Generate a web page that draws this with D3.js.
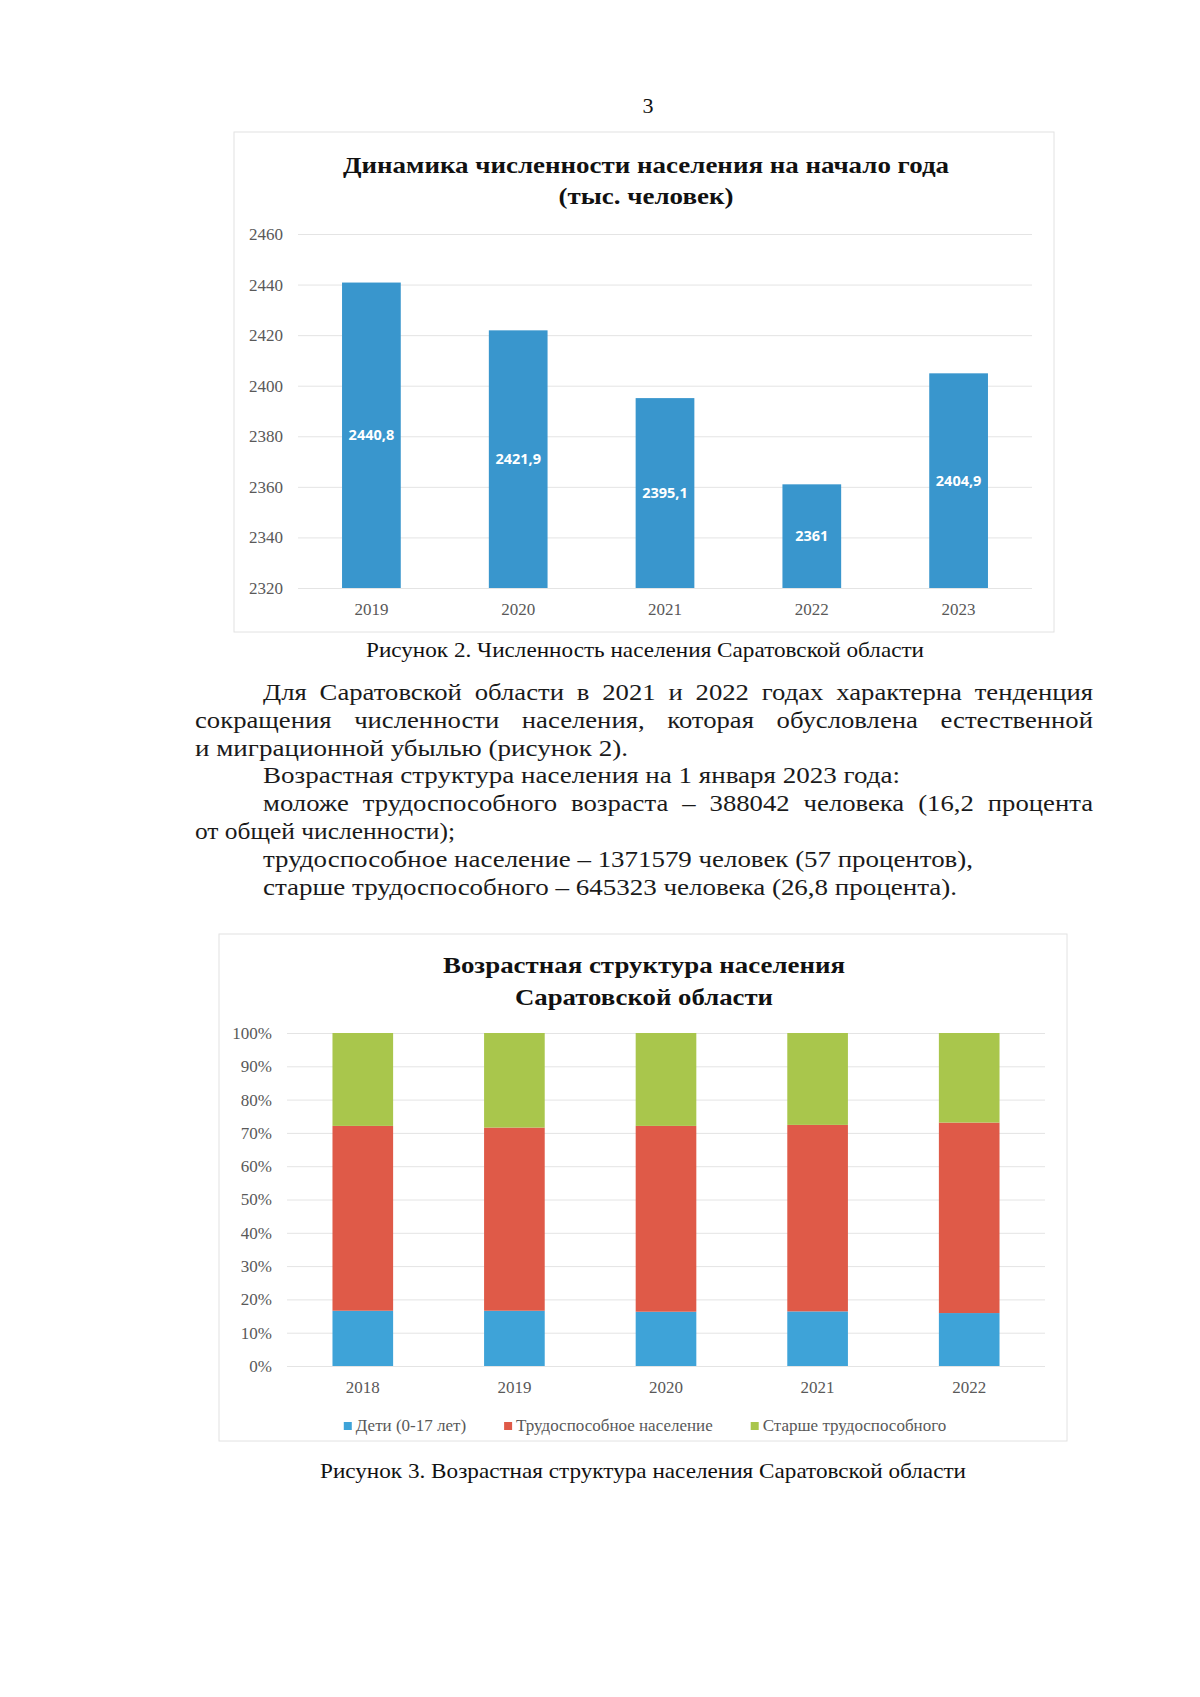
<!DOCTYPE html>
<html>
<head>
<meta charset="utf-8">
<title>Численность и возрастная структура населения</title>
<script src="https://cdn.jsdelivr.net/npm/d3@7"></script>
<style>
  body { margin: 0; background: #fff; }
  svg { font-family: "Liberation Serif", "Times New Roman", serif; }
  .tick text { font-family: "Liberation Serif", "Times New Roman", serif; }
</style>
</head>
<body>
<script>
// --- data ---
var popYears = ["2019", "2020", "2021", "2022", "2023"];
var popValues = [2440.8, 2421.9, 2395.1, 2361, 2404.9];
var popTicks = [2320, 2340, 2360, 2380, 2400, 2420, 2440, 2460];

var ageYears = ["2018", "2019", "2020", "2021", "2022"];
var ageKids = [16.6, 16.6, 16.3, 16.4, 15.9];
var ageWorking = [55.5, 55.0, 55.8, 56.0, 57.2];
var ageOlder = [27.9, 28.4, 27.9, 27.6, 26.9];
var ageSeries = ["Дети (0-17 лет)", "Трудоспособное население", "Старше трудоспособного"];
var ageColors = ["#3ea3d8", "#df5a48", "#a9c64c"];

var title1 = ["Динамика численности населения на начало года", "(тыс. человек)"];
var title2 = ["Возрастная структура населения", "Саратовской области"];
var caption1 = "Рисунок 2. Численность населения Саратовской области";
var caption2 = "Рисунок 3. Возрастная структура населения Саратовской области";

var paraLines = [
  {t: "Для Саратовской области в 2021 и 2022 годах характерна тенденция", indent: true, justify: true, end: 1093},
  {t: "сокращения численности населения, которая обусловлена естественной", indent: false, justify: true, end: 1093},
  {t: "и миграционной убылью (рисунок 2).", indent: false, justify: false, end: 628},
  {t: "Возрастная структура населения на 1 января 2023 года:", indent: true, justify: false, end: 900},
  {t: "моложе трудоспособного возраста – 388042 человека (16,2 процента", indent: true, justify: true, end: 1093},
  {t: "от общей численности);", indent: false, justify: false, end: 455},
  {t: "трудоспособное население – 1371579 человек (57 процентов),", indent: true, justify: false, end: 973},
  {t: "старше трудоспособного – 645323 человека (26,8 процента).", indent: true, justify: false, end: 957}
];

var W = 1200, H = 1697;
var svg = d3.select("body").append("svg").attr("width", W).attr("height", H);
svg.append("rect").attr("width", W).attr("height", H).attr("fill", "#fff");

// helper: centered text squeezed to a given width
function fitText(g, str, cx, y, w, size, weight, color) {
  return g.append("text")
    .attr("x", cx).attr("y", y)
    .attr("text-anchor", "middle")
    .attr("font-size", size)
    .attr("font-weight", weight || "normal")
    .attr("fill", color || "#111")
    .attr("textLength", w)
    .attr("lengthAdjust", "spacingAndGlyphs")
    .text(str);
}

// page number
svg.append("text").attr("x", 648).attr("y", 113).attr("text-anchor", "middle")
  .attr("font-size", 22).attr("fill", "#111").text("3");

// ================= chart 1 =================
var c1 = svg.append("g");
c1.append("rect").attr("x", 234).attr("y", 132).attr("width", 820).attr("height", 500)
  .attr("fill", "none").attr("stroke", "#e2e2e2");

fitText(c1, title1[0], 646, 173, 606, 24, "bold");
fitText(c1, title1[1], 646, 204, 175, 24, "bold");

var x1 = d3.scaleBand().domain(popYears).range([298, 1032]).paddingInner(0.6).paddingOuter(0.3);
var y1 = d3.scaleLinear().domain([2320, 2460]).range([588, 234]);

var y1Axis = c1.append("g").attr("transform", "translate(298,0)")
  .call(d3.axisLeft(y1).tickValues(popTicks).tickSize(-734).tickPadding(15).tickFormat(d3.format("d")));
y1Axis.select(".domain").remove();
y1Axis.attr("font-family", null);
y1Axis.selectAll(".tick line").attr("stroke", "#e4e4e4");
y1Axis.selectAll(".tick text").attr("font-size", 17).attr("fill", "#595959");

c1.selectAll("rect.bar").data(popValues).enter().append("rect")
  .attr("class", "bar")
  .attr("x", function(d, i) { return x1(popYears[i]); })
  .attr("y", function(d) { return y1(d); })
  .attr("width", x1.bandwidth())
  .attr("height", function(d) { return y1(2320) - y1(d); })
  .attr("fill", "#3996cd");

c1.selectAll("text.val").data(popValues).enter().append("text")
  .attr("class", "val")
  .attr("x", function(d, i) { return x1(popYears[i]) + x1.bandwidth() / 2; })
  .attr("y", function(d) { return (y1(d) + y1(2320)) / 2 + 5; })
  .attr("text-anchor", "middle")
  .style("font-family", "'Open Sans', sans-serif")
  .attr("font-weight", "bold").attr("font-size", 14.5).attr("fill", "#fff")
  .text(function(d) { return String(d).replace(".", ","); });

var x1Axis = c1.append("g").attr("transform", "translate(0,588)")
  .call(d3.axisBottom(x1).tickSize(0).tickPadding(15));
x1Axis.select(".domain").remove();
x1Axis.attr("font-family", null);
x1Axis.selectAll(".tick text").attr("font-size", 17).attr("fill", "#595959");

fitText(svg, caption1, 645, 657, 558, 22, "normal");

// ================= paragraph =================
var para = svg.append("g").attr("font-size", 24).attr("fill", "#1a1a1a");
// probe glyph stretch from the plain lines
var probe = para.append("text").attr("font-size", 24);
var ratios = [];
paraLines.forEach(function(l) {
  if (!l.justify) {
    probe.text(l.t);
    var nat = probe.node().getComputedTextLength();
    ratios.push((l.end - (l.indent ? 263 : 195)) / nat);
  }
});
probe.remove();
var k = d3.mean(ratios);

paraLines.forEach(function(l, i) {
  var x0 = l.indent ? 263 : 195;
  var y = 700 + i * 27.8;
  if (!l.justify) {
    para.append("text").attr("x", x0).attr("y", y)
      .attr("textLength", l.end - x0).attr("lengthAdjust", "spacingAndGlyphs").text(l.t);
    return;
  }
  var words = l.t.split(" ");
  var ws = words.map(function(w) {
    var t = para.append("text").attr("y", y).text(w);
    var len = t.node().getComputedTextLength() * k;
    t.attr("textLength", len).attr("lengthAdjust", "spacingAndGlyphs");
    return {node: t, len: len};
  });
  var total = d3.sum(ws, function(d) { return d.len; });
  var gap = (l.end - x0 - total) / (ws.length - 1);
  var cx = x0;
  ws.forEach(function(d) { d.node.attr("x", cx); cx += d.len + gap; });
});

// ================= chart 2 =================
var c2 = svg.append("g");
c2.append("rect").attr("x", 219).attr("y", 934).attr("width", 848).attr("height", 507)
  .attr("fill", "none").attr("stroke", "#e2e2e2");

fitText(c2, title2[0], 644, 973, 402, 24, "bold");
fitText(c2, title2[1], 644, 1005, 258, 24, "bold");

var x2 = d3.scaleBand().domain(ageYears).range([287, 1045]).paddingInner(0.6).paddingOuter(0.3);
var y2 = d3.scaleLinear().domain([0, 1]).range([1366, 1033]);

var y2Axis = c2.append("g").attr("transform", "translate(287,0)")
  .call(d3.axisLeft(y2).ticks(10).tickSize(-758).tickPadding(15).tickFormat(d3.format(".0%")));
y2Axis.select(".domain").remove();
y2Axis.attr("font-family", null);
y2Axis.selectAll(".tick line").attr("stroke", "#e4e4e4");
y2Axis.selectAll(".tick text").attr("font-size", 17).attr("fill", "#595959");

var ageTable = ageYears.map(function(y, i) {
  return {year: y, kids: ageKids[i] / 100, working: ageWorking[i] / 100, older: ageOlder[i] / 100};
});
var stack = d3.stack().keys(["kids", "working", "older"]);
var layers = stack(ageTable);

c2.selectAll("g.layer").data(layers).enter().append("g")
  .attr("class", "layer")
  .attr("fill", function(d, i) { return ageColors[i]; })
  .selectAll("rect").data(function(d) { return d; }).enter().append("rect")
  .attr("x", function(d) { return x2(d.data.year); })
  .attr("y", function(d) { return y2(d[1]); })
  .attr("width", x2.bandwidth())
  .attr("height", function(d) { return y2(d[0]) - y2(d[1]); });

var x2Axis = c2.append("g").attr("transform", "translate(0,1366)")
  .call(d3.axisBottom(x2).tickSize(0).tickPadding(15));
x2Axis.select(".domain").remove();
x2Axis.attr("font-family", null);
x2Axis.selectAll(".tick text").attr("font-size", 17).attr("fill", "#595959");

// legend
var leg = c2.append("g");
var lx = 0;
ageSeries.forEach(function(s, i) {
  var item = leg.append("g").attr("transform", "translate(" + lx + ",0)");
  item.append("rect").attr("x", 0).attr("y", -4).attr("width", 8).attr("height", 8).attr("fill", ageColors[i]);
  var t = item.append("text").attr("x", 12).attr("y", 5).attr("font-size", 17)
    .attr("fill", "#595959").text(s);
  lx += 12 + t.node().getComputedTextLength() + 38;
});
lx -= 38;
leg.attr("transform", "translate(" + (645 - lx / 2) + ",1426)");

fitText(svg, caption2, 643, 1478, 646, 22, "normal");
</script>
</body>
</html>
